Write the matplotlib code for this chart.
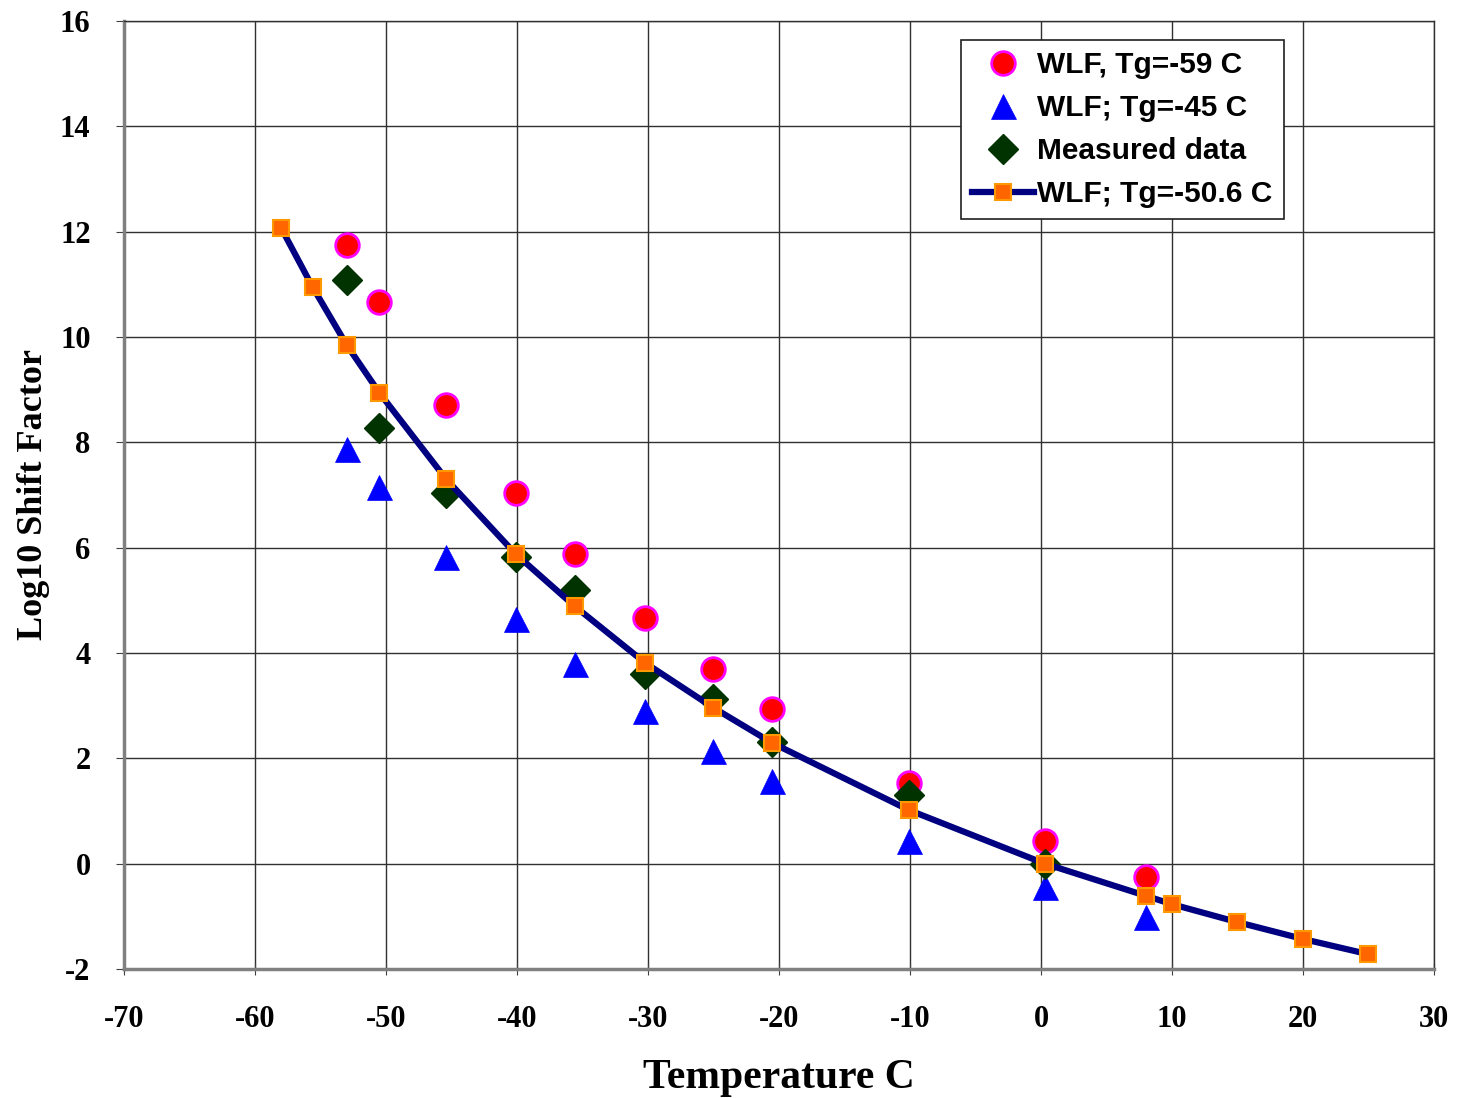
import matplotlib.pyplot as plt

plt.rcParams['axes.unicode_minus'] = False

# WLF shift factor data
temp_tg59 = [-53, -50.5, -45.4, -40.1, -35.6, -30.2, -25, -20.5, -10.1, 0.3, 8]
shift_tg59 = [11.75, 10.66, 8.71, 7.04, 5.88, 4.66, 3.70, 2.94, 1.53, 0.43, -0.25]

temp_tg45 = [-53, -50.5, -45.4, -40.1, -35.6, -30.2, -25, -20.5, -10.1, 0.3, 8]
shift_tg45 = [7.87, 7.15, 5.82, 4.65, 3.79, 2.90, 2.14, 1.57, 0.43, -0.44, -1.01]

temp_meas = [-53, -50.5, -45.4, -40.1, -35.6, -30.2, -25, -20.5, -10.1, 0.3]
shift_meas = [11.08, 8.27, 7.04, 5.82, 5.20, 3.60, 3.13, 2.31, 1.30, 0.0]

temp_tg506 = [-58, -55.6, -53, -50.5, -45.4, -40.1, -35.6, -30.2, -25, -20.5,
              -10.1, 0.3, 8, 10, 15, 20, 25]
shift_tg506 = [12.07, 10.95, 9.85, 8.94, 7.30, 5.88, 4.89, 3.81, 2.96, 2.29,
               1.02, 0.0, -0.61, -0.77, -1.11, -1.43, -1.72]

fig = plt.figure(figsize=(14.58, 10.98), dpi=100)
ax = fig.add_axes([0.085, 0.1175, 0.8985, 0.8634])

ax.plot(temp_tg59, shift_tg59, 'o', ms=17, color='#FF0000', mec='#FF00FF', mew=2,
        label='WLF, Tg=-59 C', zorder=3)
ax.plot(temp_tg45, shift_tg45, '^', ms=18, color='#0000FF', mec='#0000FF', mew=0.5,
        label='WLF; Tg=-45 C', zorder=4)
ax.plot(temp_meas, shift_meas, 'D', ms=15, color='#003300', mec='#003300',
        label='Measured data', zorder=5)
ax.plot(temp_tg506, shift_tg506, '-s', lw=4.5, color='#000080', ms=11,
        mfc='#FF6600', mec='#FF9900', mew=1.5, label='WLF; Tg=-50.6 C', zorder=6)

ax.set_xlim(-70, 30)
ax.set_ylim(-2, 16)
ax.set_xticks(range(-70, 31, 10))
ax.set_yticks(range(-2, 17, 2))
ax.grid(True, color='#303030', lw=1)
ax.set_axisbelow(True)

for lab in ax.get_xticklabels() + ax.get_yticklabels():
    lab.set_fontfamily('Liberation Serif')
    lab.set_fontweight('bold')
    lab.set_fontsize(22)
ax.tick_params(axis='x', direction='inout', length=8, pad=22, color='#404040')
ax.tick_params(axis='y', direction='out', length=6, pad=18, color='#404040')

for side in ['left', 'bottom']:
    ax.spines[side].set_color('#808080')
    ax.spines[side].set_linewidth(2.5)
for side in ['top', 'right']:
    ax.spines[side].set_color('#303030')
    ax.spines[side].set_linewidth(1)

ax.set_xlabel('Temperature C', fontfamily='Liberation Serif', fontweight='bold',
              fontsize=30, labelpad=18)
ax.set_ylabel('Log10 Shift Factor', fontfamily='Liberation Serif', fontweight='bold',
              fontsize=26, labelpad=7)

leg = ax.legend(loc='upper left', bbox_to_anchor=(0.639, 0.98), borderaxespad=0,
                numpoints=1, handlelength=2.05, handletextpad=0.12, labelspacing=0.5,
                borderpad=0.38, fancybox=False, framealpha=1, edgecolor='#202020',
                prop={'family': 'Liberation Sans', 'weight': 'bold', 'size': 21.5})
leg.get_frame().set_linewidth(1.2)

plt.savefig('out.png', dpi=100)
